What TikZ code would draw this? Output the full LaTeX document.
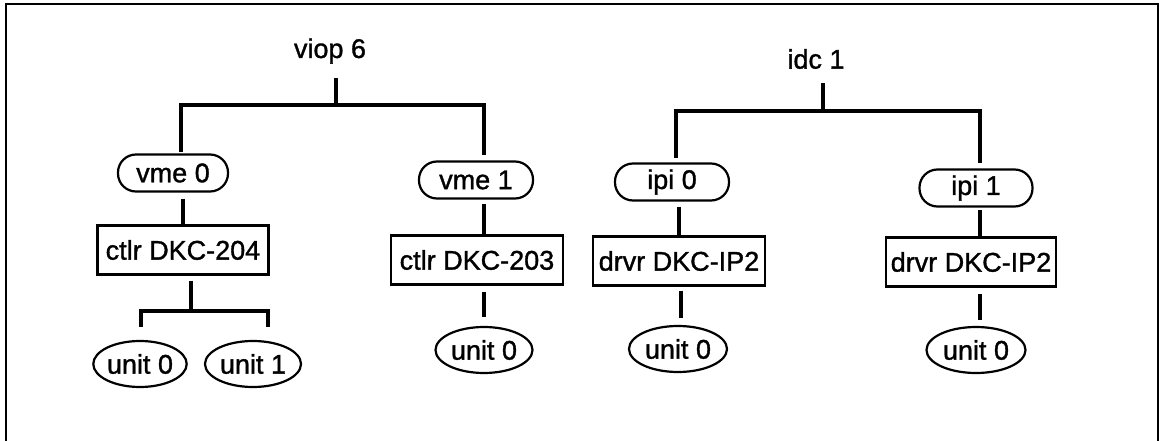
\documentclass[tikz,border=0pt]{standalone}
\usepackage{fontspec}
\setmainfont{Liberation Sans}
\newfontfamily\heavysans[FakeBold=1.2]{Liberation Sans}
\usetikzlibrary{shapes.geometric,calc}
\begin{document}
\begin{tikzpicture}[x=1pt,y=-1pt,
  every node/.style={font=\heavysans\fontsize{27}{30}\selectfont, inner sep=0pt},
  conn/.style={line width=3.4pt},
  pill/.style={draw, line width=2.2pt, rounded corners=18pt, minimum height=37pt},
  boxn/.style={draw, line width=2.2pt, minimum height=49pt},
  unitn/.style={draw, ellipse, line width=2.2pt, minimum height=46pt}]
\useasboundingbox (0,0) rectangle (1163,441);
% frame
\draw[line width=2.2pt] (6,441) -- (6,4) -- (1158,4) -- (1158,441);
% nodes
\node (viop) at (330,51) {viop 6};
\node (idc) at (816,59) {idc 1};
\node[pill, minimum width=110pt] (vme0) at (173,173) {vme 0};
\node[pill, minimum width=114pt] (vme1) at (476,180) {vme 1};
\node[pill, minimum width=114pt] (ipi0) at (672,182) {ipi 0};
\node[pill, minimum width=113pt] (ipi1) at (976,188) {ipi 1};
\node[boxn, minimum width=171pt] (c4) at (183,250) {ctlr DKC-204};
\node[boxn, minimum width=172pt] (c3) at (477,260) {ctlr DKC-203};
\node[boxn, minimum width=172pt] (d1) at (679,261) {drvr DKC-IP2};
\node[boxn, minimum width=170pt] (d2) at (971,262) {drvr DKC-IP2};
\node[unitn, minimum width=89pt] (u0a) at (140,364) {unit 0};
\node[unitn, minimum width=96pt] (u1a) at (253,364) {unit 1};
\node[unitn, minimum width=97pt] (u0b) at (484,350) {unit 0};
\node[unitn, minimum width=98pt] (u0c) at (678,349) {unit 0};
\node[unitn, minimum width=99pt] (u0d) at (976,350) {unit 0};
% bus coordinates
\coordinate (vb) at (336,105);
\coordinate (vL) at (181,105);
\coordinate (vR) at (484,105);
\coordinate (ib) at (823,111);
\coordinate (iL) at (676,111);
\coordinate (iR) at (980,111);
\coordinate (bb) at (191,311);
\coordinate (bL) at (141,311);
\coordinate (bR) at (268,311);
% connectors
\draw[conn, shorten <=14pt] (vb |- viop.south) -- (vb);
\draw[conn, shorten <=14pt] (ib |- idc.south) -- (ib);
\draw[conn, shorten <=1pt, shorten >=5pt] (vL |- vme0.north) -- (vL) -- (vR) -- (vR |- vme1.north);
\draw[conn, shorten <=4pt, shorten >=5pt] (iL |- ipi0.north) -- (iL) -- (iR) -- (iR |- ipi1.north);
\draw[conn, shorten <=6pt] (c4.north |- vme0.south) -- (c4.north);
\draw[conn, shorten <=5pt] (bb |- c4.south) -- (bb);
\draw[conn, shorten <=13pt, shorten >=13pt] (bL |- u0a.north) -- (bL) -- (bR) -- (bR |- u1a.north);
\draw[conn, shorten <=4pt] (vR |- vme1.south) -- (vR |- c3.north);
\draw[conn, shorten <=6pt, shorten >=9pt] (vR |- c3.south) -- (vR |- u0b.north);
\draw[conn, shorten <=5pt] (d1.north |- ipi0.south) -- (d1.north);
\draw[conn, shorten <=4pt, shorten >=7pt] ([xshift=2pt]d1.south) -- ([xshift=2pt]d1.south |- u0c.north);
\draw[conn, shorten <=2pt] (iR |- ipi1.south) -- (iR |- d2.north);
\draw[conn, shorten <=6pt, shorten >=6pt] (iR |- d2.south) -- (iR |- u0d.north);
\end{tikzpicture}
\end{document}
